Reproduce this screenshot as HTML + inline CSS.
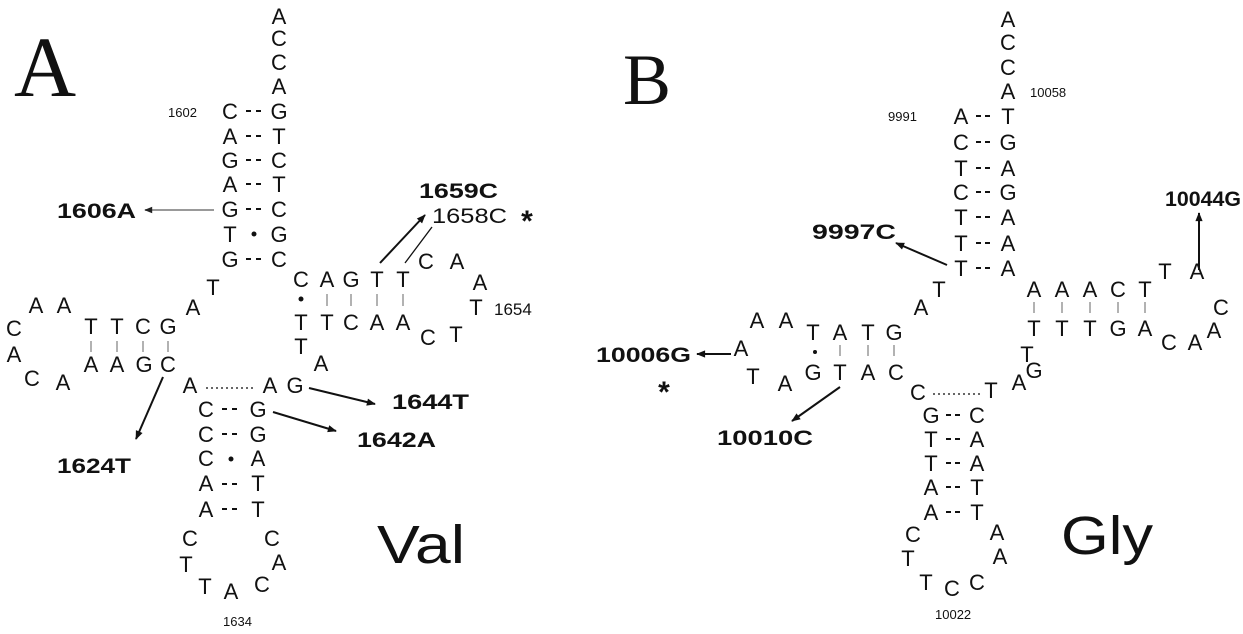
<!DOCTYPE html>
<html><head><meta charset="utf-8"><style>
html,body{margin:0;padding:0;background:#fff;}
svg{display:block;}
text{font-family:"Liberation Sans",sans-serif;fill:#111;}
.n{font-size:22px;text-anchor:middle;}
.s{font-size:13px;}
.b{font-size:21px;font-weight:bold;}
.d line{stroke:#111;stroke-width:2;}
.bar line{stroke:#999;stroke-width:1.5;}
</style></head><body>
<svg width="1243" height="634" viewBox="0 0 1243 634" xmlns="http://www.w3.org/2000/svg">
<defs>
<marker id="ah" viewBox="0 0 10 10" refX="9" refY="5" markerWidth="14" markerHeight="9" orient="auto" markerUnits="userSpaceOnUse"><path d="M0,1 L10,5 L0,9 Z" fill="#111"/></marker>
<marker id="ahg" viewBox="0 0 10 10" refX="9" refY="5" markerWidth="14" markerHeight="8" orient="auto" markerUnits="userSpaceOnUse"><path d="M0,1 L10,5 L0,9 Z" fill="#222"/></marker>
</defs>

<!-- ================= PANEL A ================= -->
<text x="14" y="96" style="font-family:'Liberation Serif',serif;font-size:86px;">A</text>

<text class="n" x="279" y="24">A</text>
<text class="n" x="279" y="46">C</text>
<text class="n" x="279" y="70">C</text>
<text class="n" x="279" y="94">A</text>
<text class="s" x="168" y="117">1602</text>
<g class="n">
<text x="230" y="119">C</text><text x="279" y="119">G</text>
<text x="230" y="144">A</text><text x="279" y="144">T</text>
<text x="230" y="168">G</text><text x="279" y="168">C</text>
<text x="230" y="192">A</text><text x="279" y="192">T</text>
<text x="230" y="217">G</text><text x="279" y="217">C</text>
<text x="230" y="242">T</text><text x="279" y="242">G</text>
<text x="230" y="267">G</text><text x="279" y="267">C</text>
</g>
<g class="d">
<line x1="246" y1="111" x2="251" y2="111"/><line x1="256" y1="111" x2="261" y2="111"/>
<line x1="246" y1="136" x2="251" y2="136"/><line x1="256" y1="136" x2="261" y2="136"/>
<line x1="246" y1="160" x2="251" y2="160"/><line x1="256" y1="160" x2="261" y2="160"/>
<line x1="246" y1="184" x2="251" y2="184"/><line x1="256" y1="184" x2="261" y2="184"/>
<line x1="246" y1="209" x2="251" y2="209"/><line x1="256" y1="209" x2="261" y2="209"/>
<line x1="246" y1="259" x2="251" y2="259"/><line x1="256" y1="259" x2="261" y2="259"/>
</g>
<circle cx="254" cy="234" r="2.5" fill="#111"/>
<text class="b" x="57" y="218" textLength="79" lengthAdjust="spacingAndGlyphs">1606A</text>
<line x1="214" y1="210" x2="145" y2="210" stroke="#999" stroke-width="2" marker-end="url(#ahg)"/>

<text class="n" x="213" y="295">T</text>
<text class="n" x="193" y="315">A</text>

<text class="n" x="14" y="336">C</text>
<text class="n" x="36" y="313">A</text>
<text class="n" x="64" y="313">A</text>
<text class="n" x="91" y="334">T</text>
<text class="n" x="117" y="334">T</text>
<text class="n" x="143" y="334">C</text>
<text class="n" x="168" y="334">G</text>
<text class="n" x="14" y="362">A</text>
<text class="n" x="32" y="386">C</text>
<text class="n" x="63" y="390">A</text>
<text class="n" x="91" y="372">A</text>
<text class="n" x="117" y="372">A</text>
<text class="n" x="144" y="372">G</text>
<text class="n" x="168" y="372">C</text>
<g class="bar"><line x1="91" y1="341" x2="91" y2="352"/><line x1="117" y1="341" x2="117" y2="352"/><line x1="143" y1="341" x2="143" y2="352"/><line x1="168" y1="341" x2="168" y2="352"/></g>

<text class="n" x="190" y="393">A</text>
<line x1="206" y1="388" x2="256" y2="388" stroke="#333" stroke-width="1.5" stroke-dasharray="2,3"/>
<text class="n" x="270" y="393">A</text>
<text class="n" x="295" y="393">G</text>
<text class="n" x="321" y="371">A</text>

<g class="n">
<text x="206" y="417">C</text><text x="258" y="417">G</text>
<text x="206" y="442">C</text><text x="258" y="442">G</text>
<text x="206" y="466">C</text><text x="258" y="466">A</text>
<text x="206" y="491">A</text><text x="258" y="491">T</text>
<text x="206" y="517">A</text><text x="258" y="517">T</text>
</g>
<g class="d">
<line x1="222" y1="409" x2="227" y2="409"/><line x1="232" y1="409" x2="237" y2="409"/>
<line x1="222" y1="434" x2="227" y2="434"/><line x1="232" y1="434" x2="237" y2="434"/>
<line x1="222" y1="484" x2="227" y2="484"/><line x1="232" y1="484" x2="237" y2="484"/>
<line x1="222" y1="509" x2="227" y2="509"/><line x1="232" y1="509" x2="237" y2="509"/>
</g>
<circle cx="231" cy="459" r="2.5" fill="#111"/>
<text class="n" x="190" y="546">C</text>
<text class="n" x="186" y="572">T</text>
<text class="n" x="205" y="594">T</text>
<text class="n" x="231" y="599">A</text>
<text class="n" x="262" y="592">C</text>
<text class="n" x="279" y="570">A</text>
<text class="n" x="272" y="546">C</text>
<text class="s" x="223" y="626">1634</text>

<text class="b" x="57" y="473" textLength="74" lengthAdjust="spacingAndGlyphs">1624T</text>
<line x1="163" y1="377" x2="136" y2="439" stroke="#111" stroke-width="2" marker-end="url(#ah)"/>
<text class="b" x="392" y="409" textLength="77" lengthAdjust="spacingAndGlyphs">1644T</text>
<line x1="309" y1="388" x2="375" y2="404" stroke="#111" stroke-width="2" marker-end="url(#ah)"/>
<text class="b" x="357" y="447" textLength="79" lengthAdjust="spacingAndGlyphs">1642A</text>
<line x1="273" y1="412" x2="336" y2="431" stroke="#111" stroke-width="2" marker-end="url(#ah)"/>

<text x="377" y="563" style="font-size:54px;" textLength="88" lengthAdjust="spacingAndGlyphs">Val</text>

<g class="n">
<text x="301" y="287">C</text><text x="327" y="287">A</text><text x="351" y="287">G</text><text x="377" y="287">T</text><text x="403" y="287">T</text>
<text x="301" y="330">T</text><text x="327" y="330">T</text><text x="351" y="330">C</text><text x="377" y="330">A</text><text x="403" y="330">A</text>
<text x="426" y="269">C</text><text x="457" y="269">A</text><text x="480" y="290">A</text>
<text x="476" y="315">T</text>
<text x="428" y="345">C</text><text x="456" y="342">T</text>
<text x="301" y="354">T</text>
</g>
<text x="494" y="315" style="font-size:17px;">1654</text>
<circle cx="301" cy="299" r="2.5" fill="#111"/>
<g class="bar"><line x1="327" y1="294" x2="327" y2="306"/><line x1="351" y1="294" x2="351" y2="306"/><line x1="377" y1="294" x2="377" y2="306"/><line x1="403" y1="294" x2="403" y2="306"/></g>
<text class="b" x="419" y="198" textLength="79" lengthAdjust="spacingAndGlyphs">1659C</text>
<text x="432" y="223" style="font-size:21px;" textLength="75" lengthAdjust="spacingAndGlyphs">1658C</text>
<text x="527" y="231" style="font-size:30px;font-weight:bold;" text-anchor="middle">*</text>
<line x1="380" y1="263" x2="425" y2="215" stroke="#111" stroke-width="2" marker-end="url(#ah)"/>
<line x1="405" y1="263" x2="432" y2="227" stroke="#111" stroke-width="1.3"/>

<!-- ================= PANEL B ================= -->
<text x="623" y="104" style="font-family:'Liberation Serif',serif;font-size:72px;">B</text>

<g class="n">
<text x="1008" y="27">A</text><text x="1008" y="50">C</text><text x="1008" y="75">C</text><text x="1008" y="99">A</text>
<text x="961" y="124">A</text><text x="1008" y="124">T</text>
<text x="961" y="150">C</text><text x="1008" y="150">G</text>
<text x="961" y="176">T</text><text x="1008" y="176">A</text>
<text x="961" y="200">C</text><text x="1008" y="200">G</text>
<text x="961" y="225">T</text><text x="1008" y="225">A</text>
<text x="961" y="251">T</text><text x="1008" y="251">A</text>
<text x="961" y="276">T</text><text x="1008" y="276">A</text>
</g>
<g class="d">
<line x1="976" y1="116" x2="981" y2="116"/><line x1="985" y1="116" x2="990" y2="116"/>
<line x1="976" y1="142" x2="981" y2="142"/><line x1="985" y1="142" x2="990" y2="142"/>
<line x1="976" y1="168" x2="981" y2="168"/><line x1="985" y1="168" x2="990" y2="168"/>
<line x1="976" y1="192" x2="981" y2="192"/><line x1="985" y1="192" x2="990" y2="192"/>
<line x1="976" y1="217" x2="981" y2="217"/><line x1="985" y1="217" x2="990" y2="217"/>
<line x1="976" y1="243" x2="981" y2="243"/><line x1="985" y1="243" x2="990" y2="243"/>
<line x1="976" y1="268" x2="981" y2="268"/><line x1="985" y1="268" x2="990" y2="268"/>
</g>
<text class="s" x="1030" y="97">10058</text>
<text class="s" x="888" y="121">9991</text>
<text class="b" x="812" y="239" textLength="84" lengthAdjust="spacingAndGlyphs">9997C</text>
<line x1="947" y1="265" x2="896" y2="243" stroke="#111" stroke-width="2" marker-end="url(#ah)"/>
<text class="b" x="1165" y="206" textLength="76" lengthAdjust="spacingAndGlyphs">10044G</text>
<line x1="1199" y1="270" x2="1199" y2="213" stroke="#111" stroke-width="2" marker-end="url(#ah)"/>

<text class="n" x="939" y="297">T</text>
<text class="n" x="921" y="315">A</text>

<g class="n">
<text x="1034" y="297">A</text><text x="1062" y="297">A</text><text x="1090" y="297">A</text><text x="1118" y="297">C</text><text x="1145" y="297">T</text>
<text x="1165" y="279">T</text><text x="1197" y="279">A</text>
<text x="1221" y="315">C</text><text x="1214" y="338">A</text>
<text x="1034" y="336">T</text><text x="1062" y="336">T</text><text x="1090" y="336">T</text><text x="1118" y="336">G</text><text x="1145" y="336">A</text>
<text x="1169" y="350">C</text><text x="1195" y="350">A</text>
<text x="1027" y="362">T</text><text x="1034" y="378">G</text><text x="1019" y="390">A</text><text x="991" y="398">T</text>
<text x="918" y="400">C</text>
</g>
<g class="bar"><line x1="1034" y1="302" x2="1034" y2="313"/><line x1="1062" y1="302" x2="1062" y2="313"/><line x1="1090" y1="302" x2="1090" y2="313"/><line x1="1118" y1="302" x2="1118" y2="313"/><line x1="1145" y1="302" x2="1145" y2="313"/></g>
<line x1="933" y1="394" x2="980" y2="394" stroke="#333" stroke-width="1.5" stroke-dasharray="2,3"/>

<g class="n">
<text x="931" y="423">G</text><text x="977" y="423">C</text>
<text x="931" y="447">T</text><text x="977" y="447">A</text>
<text x="931" y="471">T</text><text x="977" y="471">A</text>
<text x="931" y="495">A</text><text x="977" y="495">T</text>
<text x="931" y="520">A</text><text x="977" y="520">T</text>
<text x="913" y="542">C</text><text x="908" y="566">T</text><text x="926" y="590">T</text>
<text x="952" y="596">C</text><text x="977" y="590">C</text>
<text x="1000" y="564">A</text><text x="997" y="540">A</text>
</g>
<g class="d">
<line x1="946" y1="415" x2="951" y2="415"/><line x1="955" y1="415" x2="960" y2="415"/>
<line x1="946" y1="439" x2="951" y2="439"/><line x1="955" y1="439" x2="960" y2="439"/>
<line x1="946" y1="463" x2="951" y2="463"/><line x1="955" y1="463" x2="960" y2="463"/>
<line x1="946" y1="487" x2="951" y2="487"/><line x1="955" y1="487" x2="960" y2="487"/>
<line x1="946" y1="512" x2="951" y2="512"/><line x1="955" y1="512" x2="960" y2="512"/>
</g>
<text class="s" x="935" y="619">10022</text>
<text x="1061" y="554" style="font-size:54px;" textLength="92" lengthAdjust="spacingAndGlyphs">Gly</text>

<g class="n">
<text x="757" y="328">A</text><text x="786" y="328">A</text>
<text x="813" y="340">T</text><text x="840" y="340">A</text><text x="868" y="340">T</text><text x="894" y="340">G</text>
<text x="741" y="356">A</text>
<text x="753" y="384">T</text><text x="785" y="391">A</text>
<text x="813" y="380">G</text><text x="840" y="380">T</text><text x="868" y="380">A</text><text x="896" y="380">C</text>
</g>
<circle cx="815" cy="352" r="2" fill="#111"/>
<g class="bar"><line x1="840" y1="345" x2="840" y2="356"/><line x1="868" y1="345" x2="868" y2="356"/><line x1="894" y1="345" x2="894" y2="356"/></g>
<text class="b" x="596" y="362" textLength="95" lengthAdjust="spacingAndGlyphs">10006G</text>
<line x1="731" y1="354" x2="697" y2="354" stroke="#111" stroke-width="2" marker-end="url(#ah)"/>
<text x="664" y="402" style="font-size:30px;font-weight:bold;" text-anchor="middle">*</text>
<text class="b" x="717" y="445" textLength="96" lengthAdjust="spacingAndGlyphs">10010C</text>
<line x1="840" y1="387" x2="792" y2="421" stroke="#111" stroke-width="2" marker-end="url(#ah)"/>
</svg>
</body></html>
